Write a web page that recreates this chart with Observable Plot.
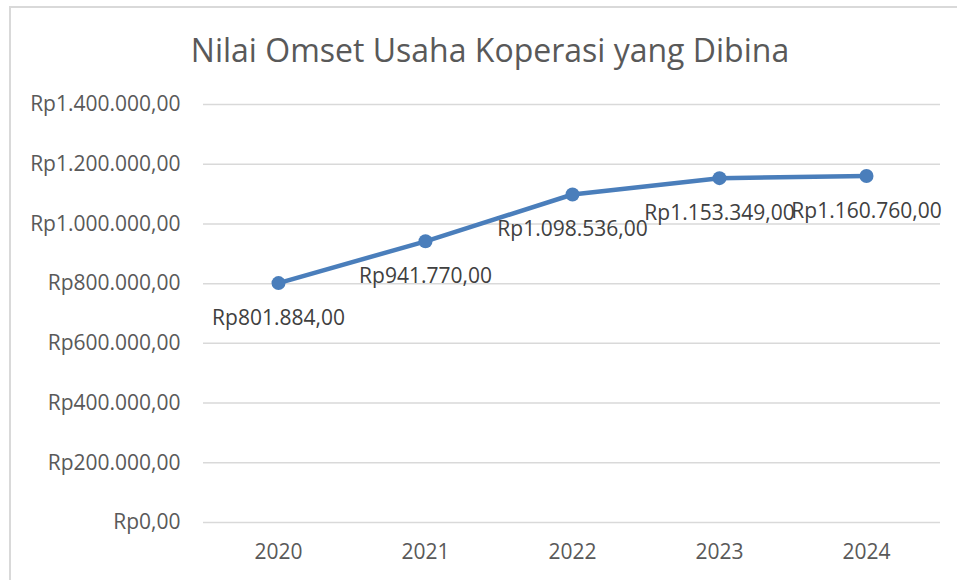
<!DOCTYPE html>
<html>
<head>
<meta charset="utf-8">
<script src="https://cdn.jsdelivr.net/npm/d3@7"></script>
<script src="https://cdn.jsdelivr.net/npm/@observablehq/plot@0.6"></script>
<style>
  html, body { margin: 0; padding: 0; background: #fff; overflow: hidden; }
  #wrap { position: relative; width: 957px; height: 580px; overflow: hidden; font-family: "Open Sans", sans-serif; }
  #frame { position: absolute; left: 9px; top: 6px; width: 1000px; height: 1000px; border: 2px solid #d9d9d9; box-sizing: border-box; }
  #title { position: absolute; left: 0; width: 980px; top: 28px; text-align: center; font-size: 32px; color: #595959; }
  #chart { position: absolute; left: 0; top: 0; }
</style>
</head>
<body>
<div id="wrap">
  <div id="frame"></div>
  <div id="chart"></div>
  <div id="title">Nilai Omset Usaha Koperasi yang Dibina</div>
</div>
<script>
const years = ["2020", "2021", "2022", "2023", "2024"];
const omset = [801884, 941770, 1098536, 1153349, 1160760];
const yTicks = [0, 200000, 400000, 600000, 800000, 1000000, 1200000, 1400000];

const locale = d3.formatLocale({decimal: ",", thousands: ".", grouping: [3], currency: ["Rp", ""]});
const rp = locale.format("$,.2f");

const data = years.map((y, i) => ({year: y, value: omset[i]}));

const chart = Plot.plot({
  width: 957,
  height: 580,
  marginTop: 104,
  marginBottom: 58,
  marginLeft: 203,
  marginRight: 17,
  style: {fontFamily: "Open Sans, sans-serif", fontSize: "21px", color: "#595959", background: "transparent"},
  x: {type: "point", domain: years, padding: 0.5, label: null},
  y: {domain: [0, 1400000], label: null},
  marks: [
    Plot.ruleY(yTicks, {stroke: "#d9d9d9", strokeWidth: 1.5}),
    Plot.axisY({ticks: yTicks, tickSize: 0, tickPadding: 23, tickFormat: rp, fontSize: 21, fill: "#595959", label: null}),
    Plot.axisX({tickSize: 0, tickPadding: 22, fontSize: 21, fill: "#595959", label: null}),
    Plot.line(data, {x: "year", y: "value", stroke: "#4a7ebb", strokeWidth: 4.5}),
    Plot.dot(data, {x: "year", y: "value", r: 7, fill: "#4a7ebb", stroke: "none"}),
    Plot.text(data, {x: "year", y: "value", text: d => rp(d.value), dy: 35, fontSize: 21, fill: "#404040", textAnchor: "middle"})
  ]
});
document.getElementById("chart").appendChild(chart);
</script>
</body>
</html>
